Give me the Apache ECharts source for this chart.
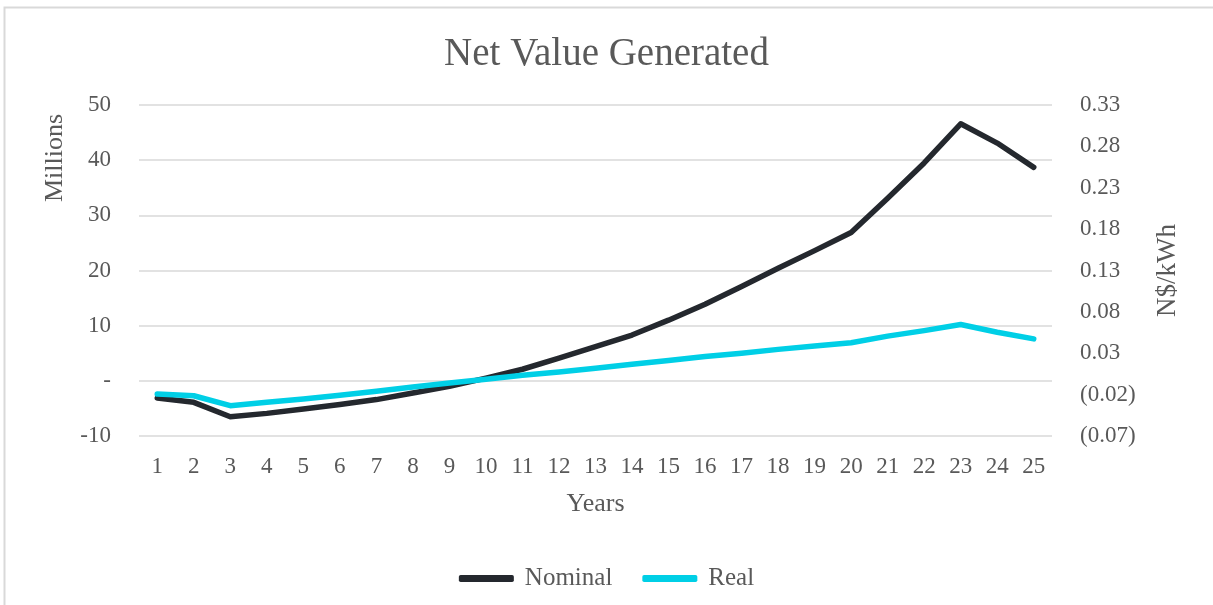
<!DOCTYPE html>
<html>
<head>
<meta charset="utf-8">
<title>Net Value Generated</title>
<script src="https://cdn.jsdelivr.net/npm/echarts@6/dist/echarts.min.js"></script>
<style>
  html, body { margin: 0; padding: 0; background: #ffffff; }
  #chart { width: 1213px; height: 605px; }
</style>
</head>
<body>
<div id="chart"></div>
<script>
// Project years on the category axis
const years = ['1','2','3','4','5','6','7','8','9','10','11','12','13','14','15','16','17','18','19','20','21','22','23','24','25'];

// Net value generated per year, in millions
const nominal = [-3.1, -3.9, -6.5, -5.9, -5.1, -4.3, -3.4, -2.2, -1.0, 0.5, 2.1, 4.1, 6.2, 8.3, 11.0, 13.9, 17.1, 20.4, 23.6, 26.9, 33.1, 39.5, 46.6, 43.1, 38.7];
const real = [-2.4, -2.7, -4.5, -3.9, -3.3, -2.6, -1.9, -1.1, -0.4, 0.3, 1.0, 1.6, 2.3, 3.0, 3.7, 4.4, 5.0, 5.7, 6.3, 6.9, 8.1, 9.1, 10.2, 8.8, 7.6];

// Axis ranges
const leftAxisRange = { min: -10, max: 50, interval: 10 };
const rightAxisRange = { min: -0.07, max: 0.33, interval: 0.05 };

const FONT = '"Liberation Serif", "DejaVu Serif", serif';
const GREY = '#595959';

const chart = echarts.init(document.getElementById('chart'), null, { renderer: 'canvas' });

chart.setOption({
  backgroundColor: '#ffffff',
  animation: false,
  textStyle: { fontFamily: FONT, color: GREY },
  title: {
    text: 'Net Value Generated',
    left: 'center',
    top: 30,
    textStyle: { fontFamily: FONT, fontSize: 39, fontWeight: 'normal', color: GREY }
  },
  graphic: [
    {
      type: 'rect',
      shape: { x: 4.5, y: 7.5, width: 1240, height: 640 },
      style: { fill: 'none', stroke: '#d9d9d9', lineWidth: 2 },
      silent: true
    },
    {
      type: 'text',
      x: 55,
      y: 158,
      rotation: Math.PI / 2,
      style: {
        text: 'Millions',
        font: '26px ' + FONT,
        fill: GREY,
        textAlign: 'center',
        textVerticalAlign: 'middle'
      }
    }
  ],
  legend: {
    data: ['Nominal', 'Real'],
    left: 'center',
    top: 561,
    icon: 'roundRect',
    itemWidth: 55,
    itemHeight: 7,
    itemGap: 30,
    textStyle: { fontFamily: FONT, fontSize: 25, color: GREY, padding: [0, 0, 0, 6] }
  },
  grid: { left: 139, right: 161, top: 105, bottom: 169, containLabel: false },
  xAxis: {
    type: 'category',
    data: years,
    boundaryGap: true,
    name: 'Years',
    nameLocation: 'middle',
    nameGap: 55,
    nameTextStyle: { fontFamily: FONT, fontSize: 26, color: GREY },
    axisLine: { show: false },
    axisTick: { show: false },
    axisLabel: { fontFamily: FONT, fontSize: 23, color: GREY, margin: 19, interval: 0 }
  },
  yAxis: [
    {
      type: 'value',
      position: 'left',
      min: leftAxisRange.min,
      max: leftAxisRange.max,
      interval: leftAxisRange.interval,
      axisLine: { show: false },
      axisTick: { show: false },
      axisLabel: {
        fontFamily: FONT, fontSize: 23, color: GREY, margin: 28,
        formatter: v => (v === 0 ? '-' : String(v))
      },
      splitLine: { lineStyle: { color: '#d9d9d9', width: 1.5 } }
    },
    {
      type: 'value',
      position: 'right',
      min: rightAxisRange.min,
      max: rightAxisRange.max,
      interval: rightAxisRange.interval,
      name: 'N$/kWh',
      nameLocation: 'middle',
      nameRotate: 90,
      nameGap: 102,
      nameTextStyle: { fontFamily: FONT, fontSize: 27, color: GREY },
      axisLine: { show: false },
      axisTick: { show: false },
      splitLine: { show: false },
      axisLabel: {
        fontFamily: FONT, fontSize: 23, color: GREY, margin: 28,
        formatter: v => {
          const r = Math.round(v * 100) / 100;
          return r < 0 ? '(' + Math.abs(r).toFixed(2) + ')' : r.toFixed(2);
        }
      }
    }
  ],
  series: [
    {
      name: 'Nominal',
      type: 'line',
      yAxisIndex: 0,
      data: nominal,
      symbol: 'none',
      smooth: false,
      lineStyle: { color: '#24282e', width: 5.5, cap: 'round', join: 'round' },
      itemStyle: { color: '#24282e' }
    },
    {
      name: 'Real',
      type: 'line',
      yAxisIndex: 0,
      data: real,
      symbol: 'none',
      smooth: false,
      lineStyle: { color: '#00cfe6', width: 5.5, cap: 'round', join: 'round' },
      itemStyle: { color: '#00cfe6' }
    }
  ]
});
</script>
</body>
</html>
